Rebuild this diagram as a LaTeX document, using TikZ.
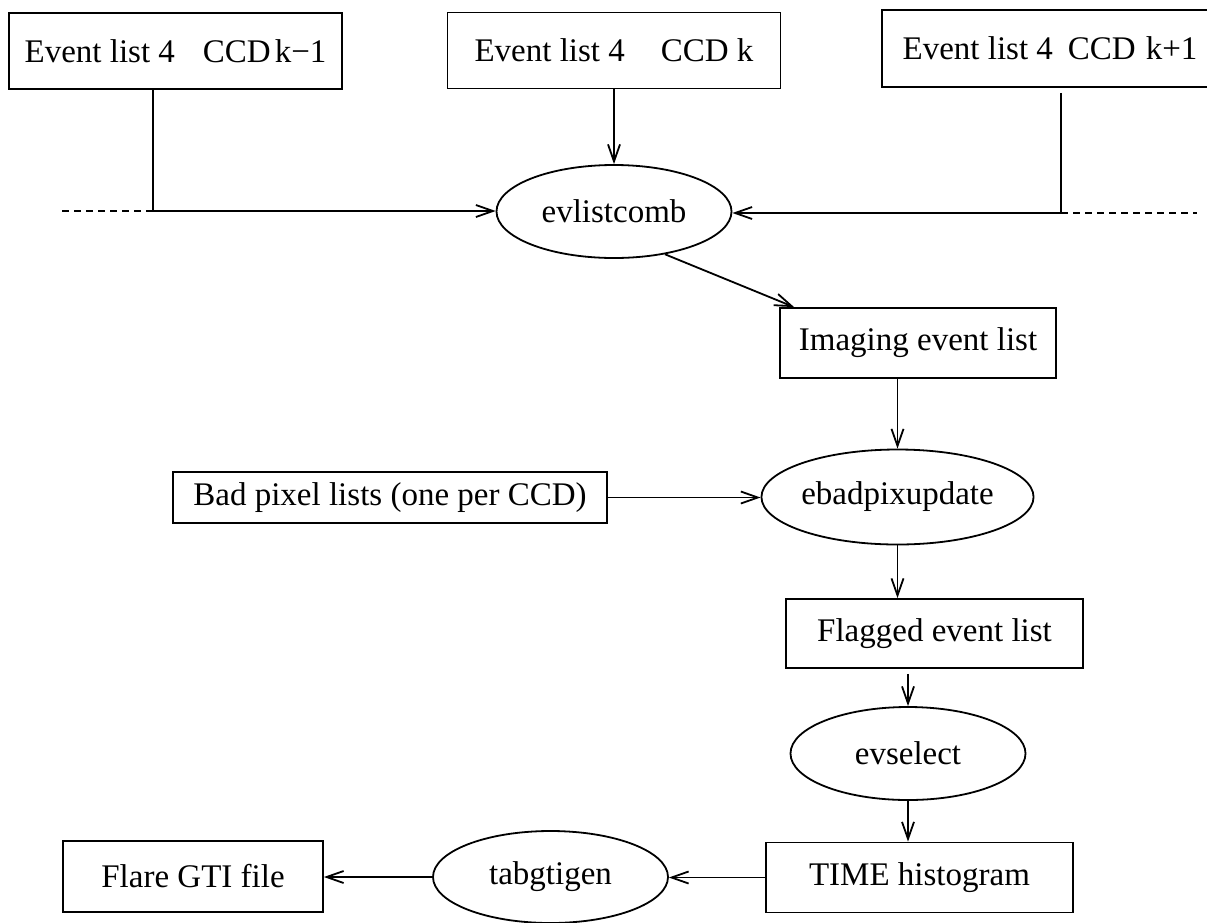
\documentclass[tikz,border=0pt]{standalone}
\usepackage{fontspec}
\setmainfont{Liberation Serif}
\usetikzlibrary{shapes.geometric,arrows.meta}

\begin{document}
\begin{tikzpicture}[x=1pt,y=-1pt,line width=1.8pt,
    font=\fontsize{33}{38}\selectfont,
    >={Straight Barb[length=17pt,width=12pt]},
    filebox/.style={draw, rectangle, inner sep=0pt},
    task/.style={draw, ellipse, inner sep=0pt, minimum width=235pt, minimum height=93pt}]
                \useasboundingbox (0,0) rectangle (1207,922);
                % input event lists, one per CCD
                \node[filebox, minimum width=333pt, minimum height=76pt] (ccdA) at (175.5,51) {Event list 4\hspace{28pt}CCD\hspace{4pt}k−1};
                \node[filebox, minimum width=333pt, minimum height=76pt] (ccdB) at (614,50.5) {Event list 4\hspace{36pt}CCD k};
                \node[filebox, minimum width=336pt, minimum height=77pt] (ccdC) at (1050,48.5) {Event list 4\hspace{15pt}CCD\hspace{10pt}k+1};
                \node[task] (comb) at (614,211.5) {evlistcomb};
                \node[filebox, minimum width=276pt, minimum height=70pt] (imaging) at (918,343) {Imaging event list};
                \node[filebox, minimum width=434pt, minimum height=51pt] (badpix) at (390,497.5) {Bad pixel lists (one per CCD)};
                \node[task, minimum height=95pt] (ebad) at (897.5,497) {ebadpixupdate};
                \node[filebox, minimum width=297pt, minimum height=69pt] (flagged) at (934.5,633.5) {Flagged event list};
                \node[task] (evsel) at (908,753.5) {evselect};
                \node[filebox, minimum width=307pt, minimum height=70pt] (timehist) at (919.5,877.5) {TIME histogram};
                \node[task, minimum height=92pt] (tabg) at (550.5,877) {tabgtigen};
                \node[filebox, minimum width=260pt, minimum height=71pt] (flare) at (193,876.5) {Flare GTI file};

                \coordinate (jA) at (153,211);
                \coordinate (dA) at (62,211);
                \coordinate (jC) at (1061,213);
                \coordinate (dC) at (1197,213);
                \draw[->] (ccdA.south -| jA) -- (jA) -- (jA -| comb.west);
                \draw[dashed, dash pattern=on 7pt off 5pt, line width=1.5pt] (dA) -- (jA);
                \draw[->] (ccdB.south) -- (comb.north);
                \draw[->] ([yshift=-5pt]ccdC.south -| jC) -- (jC) -- (jC -| comb.east);
                \draw[dashed, dash pattern=on 7pt off 5pt, line width=1.5pt] (jC) -- (dC);

                \draw[->] (comb.-40) -- ([xshift=15pt]imaging.north west);
                \draw[->] (imaging.south -| ebad.north) -- (ebad.north);
                \draw[->] (badpix.east) -- (badpix.east -| ebad.west);
                \draw[->] (ebad.south) -- (ebad.south |- flagged.north);
                \draw[->] ([yshift=-5pt]flagged.south -| evsel.north) -- (evsel.north);
                \draw[->] (evsel.south) -- (evsel.south |- timehist.north);
                \draw[->] (timehist.west) -- (timehist.west -| tabg.east);
                \draw[->] (tabg.west) -- (tabg.west -| flare.east);

            \end{tikzpicture}
\end{document}
